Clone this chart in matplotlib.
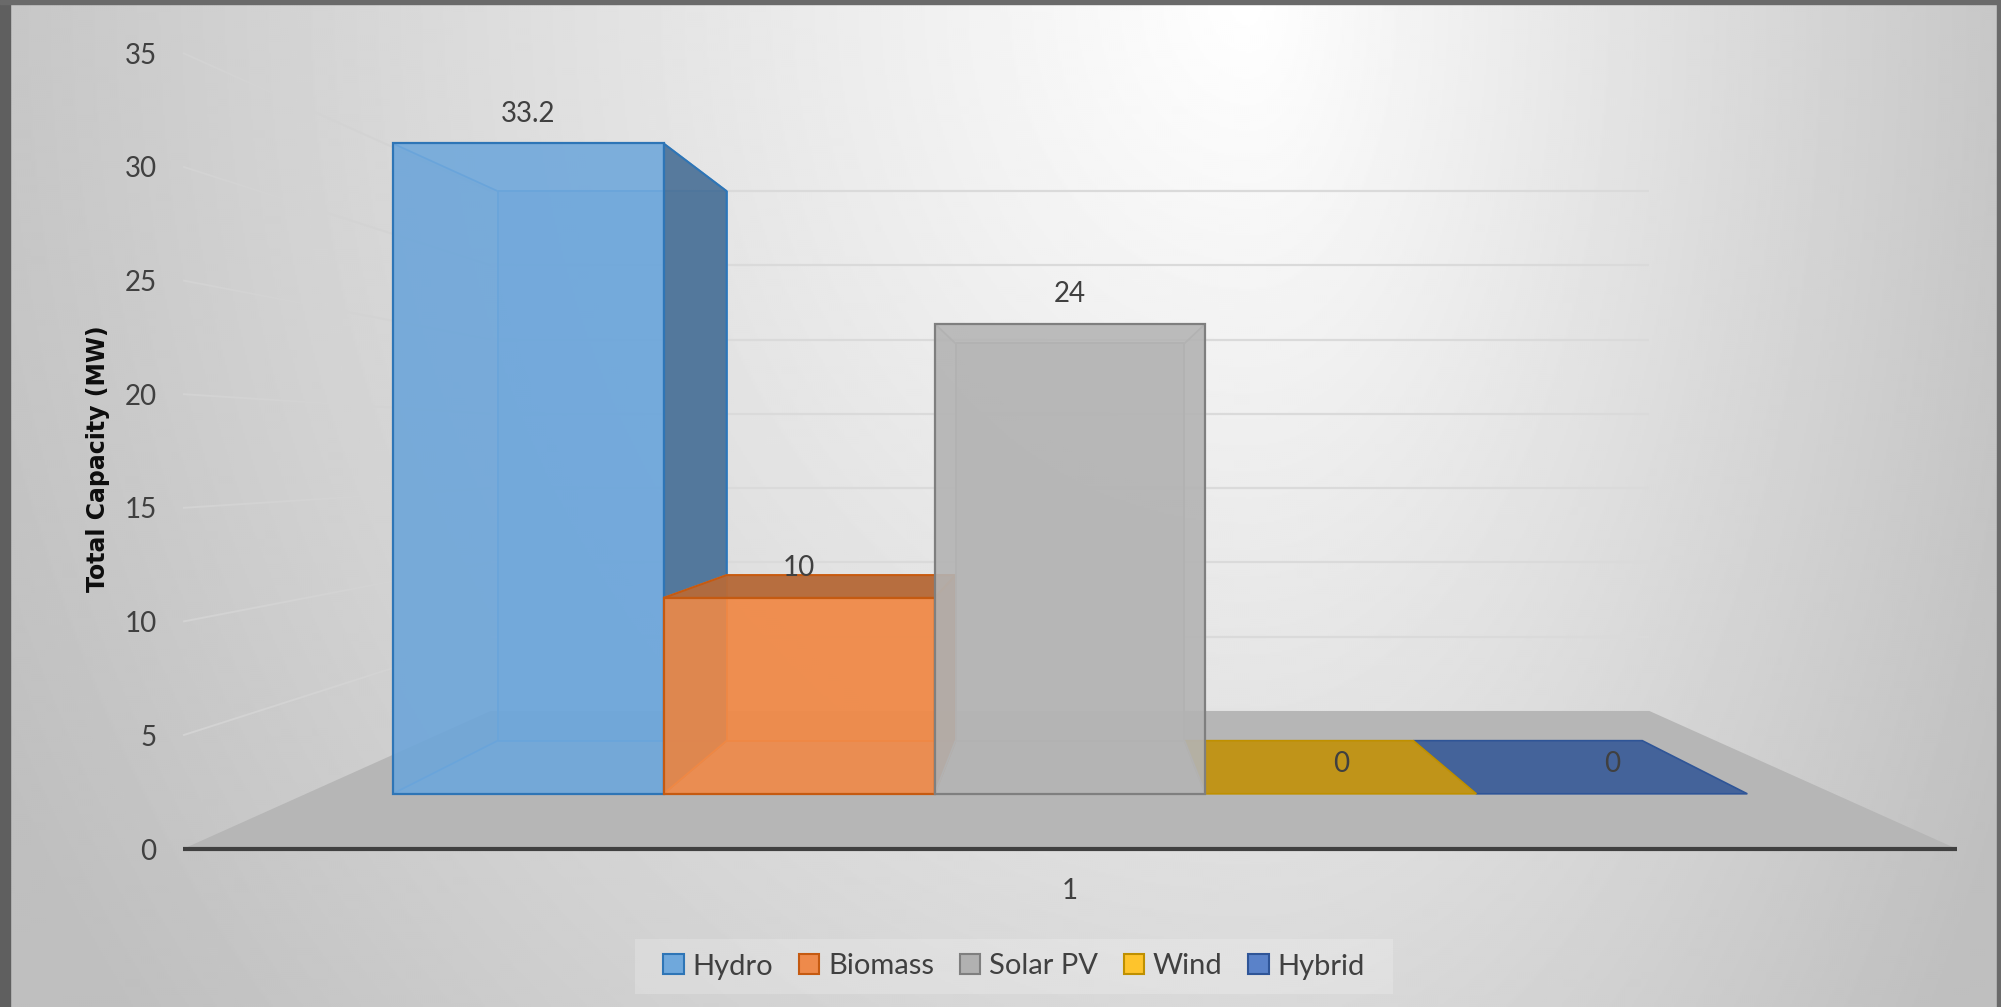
import numpy as np
import matplotlib
matplotlib.use("Agg")
import matplotlib.pyplot as plt
from matplotlib.patches import Polygon, Patch, Rectangle
from matplotlib.colors import to_rgba

# Installed capacity by technology (single category "1")
series = ["Hydro", "Biomass", "Solar PV", "Wind", "Hybrid"]
capacity = [33.2, 10, 24, 0, 0]
category = "1"
y_ticks = [0, 5, 10, 15, 20, 25, 30, 35]
y_title = "Total Capacity (MW)"

# face colours: front, side, top, edge, inner (hidden) edge
FRONT = ["#6ea7db", "#f08a48", "#b4b4b4", "#c79a1c", "#46659d"]
SIDE = ["#4f7499", "#b0602c", "#9c9c9c", "#a07a10", "#3a5486"]
TOP = ["#6a9fd2", "#b56b3b", "#a8a8a8", "#c09419", "#44639a"]
EDGE = ["#2e75b6", "#c55a11", "#7f7f7f", "#bf9000", "#2f5597"]
INNER = ["#5096d6", "#ea7a2e", "#a4a4a4", "#bf9000", "#2f5597"]
LEGEND_FC = ["#6fa8dc", "#ee8a4b", "#b1b1b1", "#fec42c", "#5a82c9"]

TEXT = "#404040"
plt.rcParams["font.family"] = ["Lato", "DejaVu Sans"]

W, H = 2001, 1007
fig = plt.figure(figsize=(W / 100, H / 100), dpi=100)

# ---- soft grey background with a bright spot at the top --------------
bg = fig.add_axes([0, 0, 1, 1], zorder=-1)
yy, xx = np.mgrid[0:H:2, 0:W:2]
dx = xx - 1250.0
wx = np.where(dx < 0, 1250.0, 760.0)
t = np.sqrt((dx / wx) ** 2 + (yy / 1500.0) ** 2)
g = (255 - 57 * np.minimum(t, 1.12)) / 255.0
bg.imshow(g, cmap="gray", vmin=0, vmax=1, extent=[0, W, H, 0],
          aspect="auto", interpolation="bilinear")
bg.add_patch(Rectangle((0, 0), 10, H, color="#5f5f5f"))
bg.add_patch(Rectangle((0, 0), W, 4, color="#6a6a6a"))
bg.add_patch(Rectangle((W - 4, 0), 4, H, color="#6a6a6a"))
# legend panel
bg.add_patch(Rectangle((635, 939), 758, 55, color=to_rgba("white", 0.2),
                       linewidth=0))
bg.set_xlim(0, W)
bg.set_ylim(H, 0)
bg.axis("off")

# ---- main axes: front plane of the 3-D box ---------------------------
ax = fig.add_axes([183 / W, 158 / H, 1774 / W, 796 / H], zorder=1)
ax.set_facecolor("none")
n = len(series)
Y_MAX = y_ticks[-1]
HALF = 2.82                      # half width of the floor, in bar slots
ax.set_xlim(n / 2 - HALF, n / 2 + HALF)
ax.set_ylim(0, Y_MAX)
for s in ax.spines.values():
    s.set_visible(False)

VX, VY = n / 2, Y_MAX / 2        # vanishing point
Z_BACK = 0.531                   # depth of the back wall
Z0, Z1 = 0.161, 0.374            # depth of the bars


def proj(x, y, z):
    r = 1.0 / (1.0 + z)
    return VX + (x - VX) * r, VY + (y - VY) * r


def poly(pts, fc, alpha=1.0, ec="none", lw=0.0, zo=2):
    xy = [proj(*p) for p in pts]
    ax.add_patch(Polygon(xy, closed=True, facecolor=to_rgba(fc, alpha),
                         edgecolor=ec, linewidth=lw, zorder=zo,
                         clip_on=False, joinstyle="miter"))


def seg(p, q, color, lw, zo, alpha=1.0):
    a, b = proj(*p), proj(*q)
    ax.plot([a[0], b[0]], [a[1], b[1]], color=color, lw=lw, zorder=zo,
            alpha=alpha, clip_on=False, solid_capstyle="butt")


xl, xr = n / 2 - HALF, n / 2 + HALF

# floor
poly([(xl, 0, 0), (xr, 0, 0), (xr, 0, Z_BACK), (xl, 0, Z_BACK)],
     "#b6b6b6", zo=0.5)
seg((xl, 0, 0), (xr, 0, 0), "#404040", 3.0, 5)

# wall gridlines: left wall and back wall
for v in y_ticks[1:]:
    seg((xl, v, 0), (xl, v, Z_BACK), "#d3d3d3", 1.4, 0.6)
    seg((xl, v, Z_BACK), (xr, v, Z_BACK), "#dadada", 1.6, 0.6)

# bars, painted from the outside in
order = sorted(range(n), key=lambda i: -abs(i + 0.5 - VX))
for k, i in enumerate(order):
    v = capacity[i]
    x0, x1 = i, i + 1
    zo = 2 + k
    front = [(x0, 0, Z0), (x1, 0, Z0), (x1, v, Z0), (x0, v, Z0)]
    back = [(x0, 0, Z1), (x1, 0, Z1), (x1, v, Z1), (x0, v, Z1)]
    top = [(x0, v, Z0), (x1, v, Z0), (x1, v, Z1), (x0, v, Z1)]
    bottom = [(x0, 0, Z0), (x1, 0, Z0), (x1, 0, Z1), (x0, 0, Z1)]
    left = [(x0, 0, Z0), (x0, 0, Z1), (x0, v, Z1), (x0, v, Z0)]
    right = [(x1, 0, Z0), (x1, 0, Z1), (x1, v, Z1), (x1, v, Z0)]

    if v == 0:
        poly(bottom, TOP[i], 1.0, EDGE[i], 1.2, zo)
        continue

    # faces hidden from the viewer, seen through the front
    poly(back, FRONT[i], 0.55, zo=zo)
    poly(bottom, FRONT[i], 0.25, zo=zo)
    if x0 <= VX:
        poly(left, SIDE[i], 0.18, zo=zo)
    if x1 >= VX:
        poly(right, SIDE[i], 0.18, zo=zo)
    for a, b in zip(back, back[1:] + back[:1]):
        seg(a, b, INNER[i], 1.3, zo)
    for a, b in zip(front, back):
        seg(a, b, INNER[i], 1.3, zo)

    # faces that face the viewer
    if v < VY:
        poly(top, TOP[i], 0.95, EDGE[i], 1.4, zo)
    if x1 < VX:
        poly(right, SIDE[i], 0.95, EDGE[i], 1.4, zo)
    if x0 > VX:
        poly(left, SIDE[i], 0.95, EDGE[i], 1.4, zo)
    poly(front, FRONT[i], 0.88, EDGE[i], 1.6, zo)

# value labels above the front face of each bar
for i, v in enumerate(capacity):
    px, py = proj(i + 0.5, v, Z0)
    ax.annotate(f"{v:g}", (px, py), xytext=(0, 21.5), textcoords="offset points",
                ha="center", va="center", fontsize=20, color=TEXT,
                zorder=20, annotation_clip=False)

# axes text
ax.set_yticks(y_ticks)
ax.set_yticklabels([str(v) for v in y_ticks])
ax.set_xticks([VX])
ax.set_xticklabels([category])
ax.tick_params(axis="y", length=0, pad=19, labelsize=20, labelcolor=TEXT)
ax.tick_params(axis="x", length=0, pad=21, labelsize=20, labelcolor=TEXT)
ax.set_ylabel(y_title, fontsize=17, fontweight="bold", color="#0d0d0d",
              family="DejaVu Sans")
ax.yaxis.set_label_coords(-0.041, 0.49)

# legend
handles = [Patch(facecolor=LEGEND_FC[i], edgecolor=EDGE[i], linewidth=1.5,
                 label=series[i]) for i in range(n)]
leg = fig.legend(handles=handles, loc="center", ncol=n,
                 bbox_to_anchor=(1014 / W, 1 - 966.5 / H), fontsize=21,
                 labelcolor=TEXT, frameon=False,
                 handlelength=0.7, handleheight=0.66, handletextpad=0.3,
                 columnspacing=0.88, borderpad=0.42, borderaxespad=0)

fig.savefig("out.png", dpi=100)
